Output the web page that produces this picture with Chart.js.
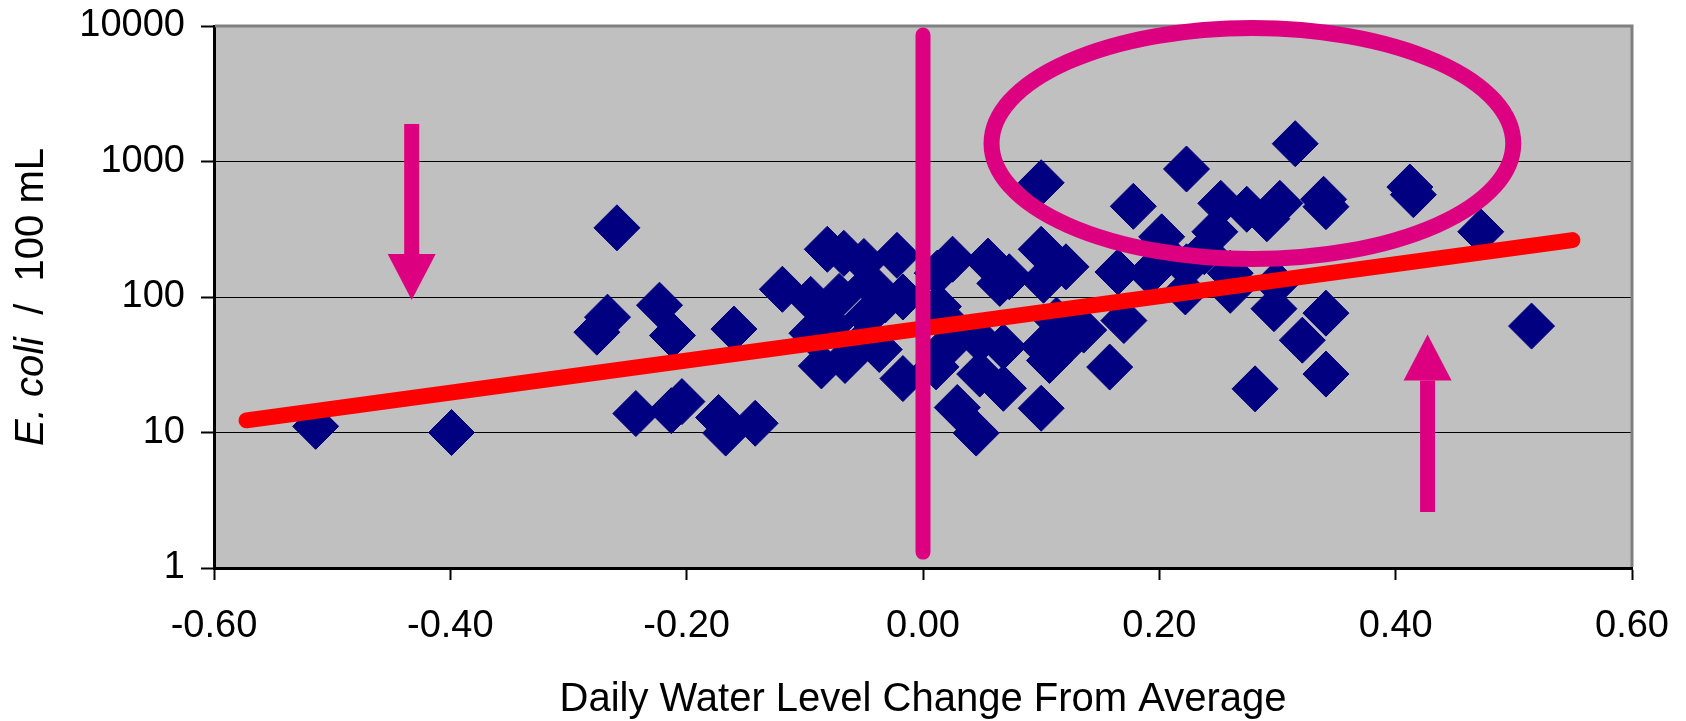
<!DOCTYPE html>
<html>
<head>
<meta charset="utf-8">
<title>E. coli vs daily water level change</title>
<script src="https://cdn.jsdelivr.net/npm/chart.js@4.4.1/dist/chart.umd.min.js"></script>
<style>
  html, body { margin: 0; padding: 0; background: #fff; }
  #chart { display: block; }
</style>
</head>
<body>
<canvas id="chart" width="1686" height="721"></canvas>
<script>
/* Data */
// daily water level change from average (x) for each sample
const levelChange = [
  -0.514, -0.399, -0.259, -0.267, -0.276, -0.223, -0.212, -0.160, -0.243, -0.213,
  -0.204, -0.173, -0.167, -0.142, -0.119, -0.095, -0.081, -0.067, -0.050, -0.071,
  -0.032, -0.094, -0.086, -0.066, -0.037, -0.056, -0.017, -0.022, -0.045, -0.017,
  0.013, 0.011, 0.020, 0.025, 0.025, 0.029, 0.045, 0.048, 0.048, 0.055,
  0.065, 0.068, 0.068, 0.073, 0.100, 0.100, 0.100, 0.102, 0.102, 0.107,
  0.113, 0.121, 0.124, 0.136, 0.158, 0.165, 0.170, 0.178, 0.192, 0.202,
  0.202, 0.222, 0.223, 0.223, 0.238, 0.247, 0.252, 0.260, 0.260, 0.274,
  0.281, 0.291, 0.297, 0.299, 0.302, 0.315, 0.321, 0.339, 0.341, 0.341,
  0.341, 0.412, 0.415, 0.472, 0.515, -0.078, -0.047, 0.012
];
// E. coli per 100 mL for the same samples
const eColi = [
  11.1, 10, 324, 71, 55, 87, 52, 58, 13.8, 14.5,
  16.9, 12.9, 9.9, 11.7, 114, 96, 225, 210, 183, 101,
  95, 54, 31, 34, 41, 42, 25, 203, 126, 100,
  85, 30.5, 43, 190, 60, 15.3, 9.9, 27, 48, 184,
  126, 21.2, 43, 141, 225, 697, 15.1, 133, 43, 34,
  67.5, 167, 48, 57, 30.4, 153, 67, 467, 150, 278,
  221, 109, 880, 167, 216, 303, 491, 112, 150, 444,
  21, 378, 82, 126, 491, 1353, 48, 526, 464, 76,
  27, 648, 569, 303, 61, 62, 72, 150
];

// fitted trend line end points
const trendX = [-0.5725, 0.5496];
const trendY = [12.3, 263];

// vertical marker at zero change
const zeroLineX = [0, 0];
const zeroLineY = [1.31, 8590];

// ring around the high counts: x extent and y extent
const ringX = [0.058, 0.4995];
const ringY = [190.5, 9680];

// arrows: x position, tail value, tip value
const arrowDownX = -0.4327, arrowDownFrom = 1892, arrowDownTo = 95;
const arrowUpX = 0.427, arrowUpFrom = 2.59, arrowUpTo = 52.9;

// axis ticks
const xTicks = [-0.6, -0.4, -0.2, 0, 0.2, 0.4, 0.6];
const yTicks = [1, 10, 100, 1000, 10000];

const MAGENTA = "#dc0080";
const FONT = "'Liberation Sans', Arial, sans-serif";

const points = levelChange.map((v, i) => ({ x: v, y: eColi[i] }));
const trend = trendX.map((v, i) => ({ x: v, y: trendY[i] }));
const zeroLine = zeroLineX.map((v, i) => ({ x: v, y: zeroLineY[i] }));

/* Plot background and grey frame */
const frame = {
  id: "frame",
  beforeDraw(chart) {
    const { ctx, chartArea: a } = chart;
    ctx.save();
    ctx.fillStyle = "#c0c0c0";
    ctx.fillRect(a.left, a.top, a.right - a.left, a.bottom - a.top);
    ctx.restore();
  },
  beforeDatasetsDraw(chart) {
    const { ctx, chartArea: a } = chart;
    ctx.save();
    ctx.strokeStyle = "#808080";
    ctx.lineWidth = 3;
    ctx.beginPath();
    ctx.moveTo(a.left + 1, a.top);
    ctx.lineTo(a.right, a.top);
    ctx.lineTo(a.right, a.bottom - 1);
    ctx.stroke();
    ctx.restore();
  }
};

/* Ring and arrows drawn over the data, placed through the scales */
function drawArrow(ctx, xs, ys, x, from, to) {
  const px = xs.getPixelForValue(x);
  const p0 = ys.getPixelForValue(from);
  const p1 = ys.getPixelForValue(to);
  const dir = p1 > p0 ? 1 : -1;
  const headLen = 46, headHalf = 24;
  const base = p1 - dir * headLen;
  ctx.fillRect(px - 7.5, Math.min(p0, base), 15, Math.abs(base - p0));
  ctx.beginPath();
  ctx.moveTo(px - headHalf, base);
  ctx.lineTo(px + headHalf, base);
  ctx.lineTo(px, p1);
  ctx.closePath();
  ctx.fill();
}

const markings = {
  id: "markings",
  afterDatasetsDraw(chart) {
    const { ctx } = chart;
    const xs = chart.scales.x, ys = chart.scales.y;
    ctx.save();
    ctx.strokeStyle = MAGENTA;
    ctx.fillStyle = MAGENTA;
    const l = xs.getPixelForValue(ringX[0]);
    const r = xs.getPixelForValue(ringX[1]);
    const b = ys.getPixelForValue(ringY[0]);
    const t = ys.getPixelForValue(ringY[1]);
    ctx.lineWidth = 16;
    ctx.beginPath();
    ctx.ellipse((l + r) / 2, (t + b) / 2, (r - l) / 2, (b - t) / 2, 0, 0, Math.PI * 2);
    ctx.stroke();
    drawArrow(ctx, xs, ys, arrowDownX, arrowDownFrom, arrowDownTo);
    drawArrow(ctx, xs, ys, arrowUpX, arrowUpFrom, arrowUpTo);
    ctx.restore();
  }
};

/* Axis titles (y title has an italic part) */
const titles = {
  id: "titles",
  afterDraw(chart) {
    const { ctx, chartArea: a } = chart;
    ctx.save();
    ctx.fillStyle = "#000";
    ctx.textBaseline = "alphabetic";
    ctx.font = "40px " + FONT;
    ctx.textAlign = "center";
    ctx.fillText("Daily Water Level Change From Average", (a.left + a.right) / 2, 711);

    const italicFont = "italic 40px " + FONT;
    const normalFont = "40px " + FONT;
    const part1 = "E. coli", part2 = "  /  100 mL";
    ctx.font = italicFont;
    const w1 = ctx.measureText(part1).width;
    ctx.font = normalFont;
    const w2 = ctx.measureText(part2).width;
    ctx.translate(43, (a.top + a.bottom) / 2);
    ctx.rotate(-Math.PI / 2);
    ctx.textAlign = "left";
    const start = -(w1 + w2) / 2;
    ctx.font = italicFont;
    ctx.fillText(part1, start, 0);
    ctx.font = normalFont;
    ctx.fillText(part2, start + w1, 0);
    ctx.restore();
  }
};

new Chart(document.getElementById("chart"), {
  data: {
    datasets: [
      {
        type: "line",
        data: zeroLine,
        borderColor: MAGENTA,
        borderWidth: 15,
        borderCapStyle: "round",
        pointRadius: 0,
        order: 0
      },
      {
        type: "line",
        data: trend,
        borderColor: "#ff0000",
        borderWidth: 16,
        borderCapStyle: "round",
        pointRadius: 0,
        order: 1
      },
      {
        type: "scatter",
        data: points,
        pointStyle: "rectRot",
        pointRadius: 23,
        pointBorderWidth: 1,
        backgroundColor: "#000080",
        borderColor: "#000080",
        order: 2
      }
    ]
  },
  options: {
    responsive: false,
    animation: false,
    devicePixelRatio: 1,
    events: [],
    layout: { padding: { left: 0, right: 54, top: 26, bottom: 0 } },
    plugins: {
      legend: { display: false },
      tooltip: { enabled: false }
    },
    scales: {
      x: {
        type: "linear",
        min: -0.6,
        max: 0.6,
        afterBuildTicks: (scale) => { scale.ticks = xTicks.map((v) => ({ value: v })); },
        afterFit: (scale) => {
          scale.height = 153;
          scale.paddingLeft = 0;
          scale.paddingRight = 0;
        },
        ticks: {
          maxRotation: 0,
          autoSkip: false,
          padding: 24,
          color: "#000",
          font: { family: FONT, size: 38 },
          callback: (v) => (Math.abs(v) < 1e-9 ? "0.00" : Number(v).toFixed(2))
        },
        grid: {
          drawOnChartArea: false,
          tickLength: 12,
          tickWidth: 2,
          tickColor: "#000"
        },
        border: { color: "#000", width: 3 }
      },
      y: {
        type: "logarithmic",
        min: 1,
        max: 10000,
        afterBuildTicks: (scale) => { scale.ticks = yTicks.map((v) => ({ value: v })); },
        afterFit: (scale) => {
          scale.width = 214;
          scale.paddingTop = 0;
          scale.paddingBottom = 0;
        },
        ticks: {
          autoSkip: false,
          padding: 16,
          color: "#000",
          font: { family: FONT, size: 38 },
          callback: (v) => String(v)
        },
        grid: {
          color: "#000",
          lineWidth: 1,
          tickLength: 13,
          tickWidth: 2,
          tickColor: "#000"
        },
        border: { color: "#000", width: 3 }
      }
    }
  },
  plugins: [frame, markings, titles]
});
</script>
</body>
</html>
